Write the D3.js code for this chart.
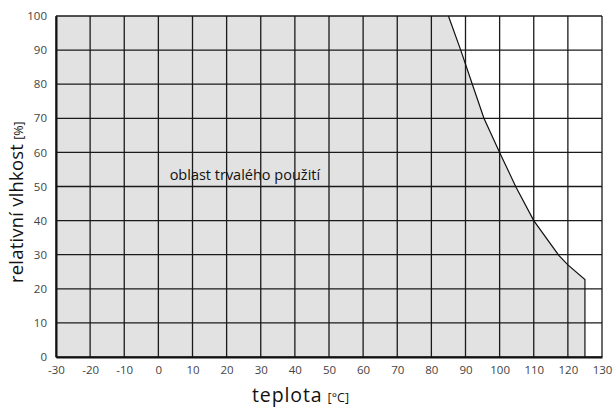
<!DOCTYPE html>
<html>
<head>
<meta charset="utf-8">
<script src="https://cdn.jsdelivr.net/npm/d3@7"></script>
<style>
  body { margin: 0; background: #fff; }
  .tick text { font-family: "Open Sans", sans-serif; font-size: 11.5px; fill: #444; }
</style>
</head>
<body>
<div id="chart"></div>
<script>
// limit curve of the permanent operating area (temperature °C, relative humidity %)
var limitTemp = [85, 88.6, 92, 95.4, 100, 104.7, 110, 117.4, 120, 125, 125];
var limitHum  = [100, 90, 80, 70, 60, 50, 40, 29.7, 27, 22.7, 0];

var xTicks = [-30, -20, -10, 0, 10, 20, 30, 40, 50, 60, 70, 80, 90, 100, 110, 120, 130];
var yTicks = [0, 10, 20, 30, 40, 50, 60, 70, 80, 90, 100];

var svgWidth = 613;
var svgHeight = 408;

var margin = { top: 16, right: 11, bottom: 51, left: 56 };
var width = svgWidth - margin.left - margin.right;
var height = svgHeight - margin.top - margin.bottom;

var svg = d3.select("#chart")
    .append("svg")
    .attr("width", svgWidth)
    .attr("height", svgHeight);

var chartGroup = svg.append("g")
    .attr("transform", `translate(${margin.left}, ${margin.top})`);

var x = d3.scaleLinear().domain([-30, 130]).range([0, width]);
var y = d3.scaleLinear().domain([0, 100]).range([height, 0]);

// shaded area: left edge up to the top, then along the limit curve
var areaPts = [[-30, 0], [-30, 100]];
limitTemp.forEach(function(t, i) { areaPts.push([t, limitHum[i]]); });

chartGroup.append("path")
    .datum(areaPts)
    .attr("fill", "#e2e2e2")
    .attr("d", d3.line().x(d => x(d[0])).y(d => y(d[1])));

// grid
chartGroup.append("g")
    .selectAll("line")
    .data(xTicks)
    .enter()
    .append("line")
    .attr("x1", d => x(d)).attr("x2", d => x(d))
    .attr("y1", 0).attr("y2", height)
    .attr("stroke", "#1a1a1a")
    .attr("stroke-width", 1.3);

chartGroup.append("g")
    .selectAll("line")
    .data(yTicks)
    .enter()
    .append("line")
    .attr("x1", 0).attr("x2", width)
    .attr("y1", d => y(d)).attr("y2", d => y(d))
    .attr("stroke", "#1a1a1a")
    .attr("stroke-width", 1.3);

// limit curve
chartGroup.append("path")
    .datum(limitTemp.map((t, i) => [t, limitHum[i]]))
    .attr("fill", "none")
    .attr("stroke", "#111")
    .attr("stroke-width", 1.2)
    .attr("d", d3.line().x(d => x(d[0])).y(d => y(d[1])));

// axes (labels only), plain hyphen for negatives
var bottomAxis = d3.axisBottom(x).tickValues(xTicks).tickFormat(d => String(d)).tickSize(0).tickPadding(9);
var leftAxis = d3.axisLeft(y).tickValues(yTicks).tickFormat(d => String(d)).tickSize(0).tickPadding(9);

chartGroup.append("g")
    .attr("transform", `translate(0, ${height})`)
    .call(bottomAxis)
    .call(g => g.select(".domain").attr("stroke", "#111").attr("stroke-width", 2));

chartGroup.append("g")
    .call(leftAxis)
    .call(g => g.select(".domain").attr("stroke", "#111").attr("stroke-width", 2));

// area label
chartGroup.append("text")
    .attr("x", x(3.3))
    .attr("y", y(52))
    .attr("font-family", "Open Sans, sans-serif")
    .attr("font-size", "14.5px")
    .attr("fill", "#111")
    .text("oblast trvalého použití");

// axis titles
var yTitle = svg.append("text")
    .attr("transform", `translate(23, 283) rotate(-90)`)
    .attr("font-family", "Open Sans, sans-serif")
    .attr("fill", "#111");
yTitle.append("tspan").attr("font-size", "18.5px").attr("letter-spacing", "0.2px").text("relativní vlhkost");
yTitle.append("tspan").attr("font-size", "12.5px").attr("dx", 4).text("[%]");

var xTitle = svg.append("text")
    .attr("x", 252)
    .attr("y", 402)
    .attr("font-family", "Open Sans, sans-serif")
    .attr("fill", "#111");
xTitle.append("tspan").attr("font-size", "19.5px").attr("letter-spacing", "0.9px").text("teplota");
xTitle.append("tspan").attr("font-size", "12.5px").attr("dx", 5).text("[°C]");
</script>
</body>
</html>
